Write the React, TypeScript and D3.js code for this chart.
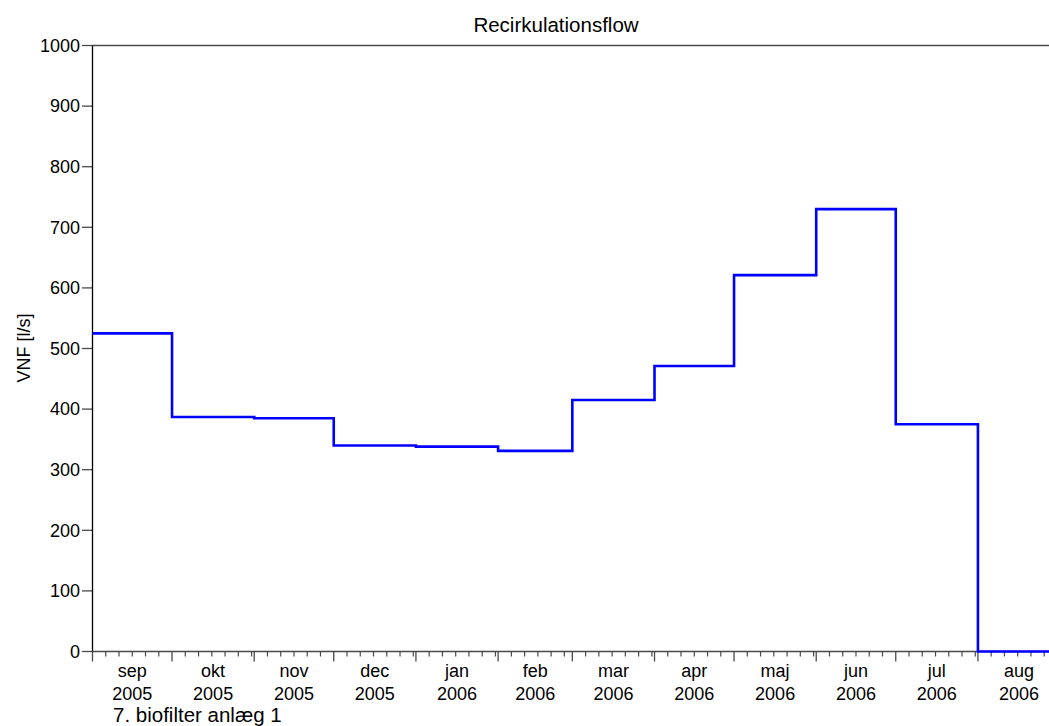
import React from "react";
import * as d3 from "d3";

const monthStarts: string[] = [
  "2005-09-01", "2005-10-01", "2005-11-01", "2005-12-01", "2006-01-01", "2006-02-01",
  "2006-03-01", "2006-04-01", "2006-05-01", "2006-06-01", "2006-07-01", "2006-08-01",
];
const monthNames: string[] = ["sep", "okt", "nov", "dec", "jan", "feb", "mar", "apr", "maj", "jun", "jul", "aug"];
const flowValues: number[] = [525, 387, 385, 340, 338, 331, 415, 471, 621, 730, 375, 0];
const yTicks: number[] = [0, 100, 200, 300, 400, 500, 600, 700, 800, 900, 1000];
const title = "Recirkulationsflow";
const yLabel = "VNF [l/s]";
const caption = "7. biofilter anlæg 1";

const W = 1049;
const H = 726;
const FONT = "'Liberation Sans', Arial, Helvetica, sans-serif";

export default function App() {
  const parse = d3.utcParse("%Y-%m-%d");
  const starts = monthStarts.map((s) => parse(s) as Date);
  const end = d3.utcMonth.offset(starts[starts.length - 1], 1);

  // plot area extends slightly beyond the right edge of the picture (clipped)
  const pxPerDay = 2.651;
  const nDays = d3.utcDay.count(starts[0], end);
  const x = d3.scaleUtc().domain([starts[0], end]).range([92.5, 92.5 + nDays * pxPerDay]);
  const y = d3.scaleLinear().domain([0, 1000]).range([651.5, 45.5]);

  const pts: [Date, number][] = starts.map((d, i) => [d, flowValues[i]]);
  pts.push([end, flowValues[flowValues.length - 1]]);
  const line = d3
    .line<[Date, number]>()
    .x((d) => x(d[0]))
    .y((d) => y(d[1]))
    .curve(d3.curveStepAfter);

  const allDays = d3.utcDay.range(starts[0], end);
  const minorDays = allDays.filter((d) => d.getUTCDate() !== 1 && (d.getUTCDate() - 1) % 5 === 0);

  const axisColor = "#4a4a4a";

  return (
    <svg
      width={W}
      height={H}
      style={{ position: "absolute", left: 0, top: 0, display: "block", background: "#fff" }}
      fontFamily={FONT}
    >
      <rect x={0} y={0} width={W} height={H} fill="#fff" />
      <text x={556} y={31.5} fontSize={20.5} textAnchor="middle" fill="#000">
        {title}
      </text>

      {/* top frame line */}
      <line x1={92.5} x2={W} y1={y(1000)} y2={y(1000)} stroke={axisColor} strokeWidth={1.5} />

      {/* y ticks */}
      {yTicks.map((t) => (
        <g key={t}>
          <line x1={82} x2={92.5} y1={y(t)} y2={y(t)} stroke={axisColor} strokeWidth={1.3} />
          <text x={80} y={y(t)} dy="0.35em" fontSize={18} textAnchor="end" fill="#000">
            {t}
          </text>
        </g>
      ))}

      {/* x axis */}
      <line x1={92.5} x2={W} y1={y(0)} y2={y(0)} stroke={axisColor} strokeWidth={1.5} />
      {minorDays.map((d, i) => (
        <line key={"m" + i} x1={x(d)} x2={x(d)} y1={y(0)} y2={y(0) + 5} stroke={axisColor} strokeWidth={1.2} />
      ))}
      {starts.map((d, i) => (
        <line key={"M" + i} x1={x(d)} x2={x(d)} y1={y(0)} y2={y(0) + 10} stroke={axisColor} strokeWidth={1.3} />
      ))}
      {starts.map((d, i) => {
        const next = d3.utcMonth.offset(d, 1);
        const cx = (x(d) + x(next)) / 2;
        return (
          <g key={"l" + i}>
            <text x={cx} y={677} fontSize={18} textAnchor="middle" fill="#000">
              {monthNames[i]}
            </text>
            <text x={cx} y={699.5} fontSize={18} textAnchor="middle" fill="#000">
              {d.getUTCFullYear()}
            </text>
          </g>
        );
      })}

      {/* left axis */}
      <line x1={92.5} x2={92.5} y1={y(1000)} y2={y(0)} stroke="#000" strokeWidth={1.3} />

      {/* y label */}
      <text transform="translate(29.5,348) rotate(-90)" fontSize={18} textAnchor="middle" fill="#000">
        {yLabel}
      </text>

      {/* data */}
      <path d={line(pts) || ""} fill="none" stroke="#0000ff" strokeWidth={2.6} strokeLinejoin="miter" />

      <text x={113} y={721.5} fontSize={20.5} fill="#000">
        {caption}
      </text>
    </svg>
  );
}
